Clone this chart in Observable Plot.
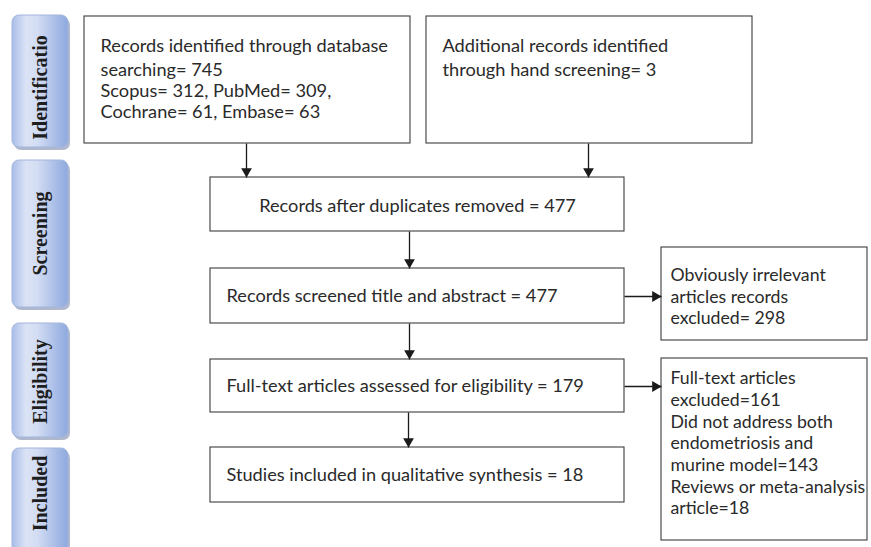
<!DOCTYPE html>
<html>
<head>
<meta charset="utf-8">
<script src="https://cdn.jsdelivr.net/npm/d3@7"></script>
<script src="https://cdn.jsdelivr.net/npm/@observablehq/plot@0.6"></script>
<style>
  html, body { margin: 0; padding: 0; background: #ffffff; overflow: hidden; }
  #chart svg { display: block; }
</style>
</head>
<body>
<div id="chart"></div>
<script>
// ---------- DATA ----------
const stages = ["Identificatio", "Screening", "Eligibility", "Included"];
const databaseTotal = 745;
const sourceNames = ["Scopus", "PubMed", "Cochrane", "Embase"];
const sourceCounts = [312, 309, 61, 63];
const handScreening = 3;
const afterDuplicates = 477;
const screenedTitleAbstract = 477;
const irrelevantExcluded = 298;
const fullTextAssessed = 179;
const fullTextExcluded = 161;
const notAddressBoth = 143;
const reviewsMeta = 18;
const includedStudies = 18;

// ---------- TEXT OF EACH BOX ----------
const boxTexts = {
  db: ["Records identified through database",
       `searching= ${databaseTotal}`,
       `${sourceNames[0]}= ${sourceCounts[0]}, ${sourceNames[1]}= ${sourceCounts[1]},`,
       `${sourceNames[2]}= ${sourceCounts[2]}, ${sourceNames[3]}= ${sourceCounts[3]}`],
  hand: ["Additional records identified", `through hand screening= ${handScreening}`],
  dup: [`Records after duplicates removed = ${afterDuplicates}`],
  screen: [`Records screened title and abstract = ${screenedTitleAbstract}`],
  irrel: ["Obviously irrelevant", "articles records", `excluded= ${irrelevantExcluded}`],
  ftEx: ["Full-text articles", `excluded=${fullTextExcluded}`, "Did not address both",
         "endometriosis and", `murine model=${notAddressBoth}`, "Reviews or meta-analysis",
         `article=${reviewsMeta}`],
  elig: [`Full-text articles assessed for eligibility = ${fullTextAssessed}`],
  incl: [`Studies included in qualitative synthesis = ${includedStudies}`]
};

// ---------- LAYOUT (diagram space = pixel space) ----------
const W = 871, H = 547;
const boxLayout = {
  db:     {x1: 84,  y1: 16,  x2: 410, y2: 143, tx: 100, ty: [46, 70, 91, 112], anchor: "start", size: 18.2},
  hand:   {x1: 426, y1: 16,  x2: 752, y2: 143, tx: 442, ty: [46, 70], anchor: "start", size: 18.2},
  dup:    {x1: 210, y1: 177, x2: 624, y2: 231, tx: 417, ty: [206], anchor: "middle", size: 18.2},
  screen: {x1: 210, y1: 268, x2: 624, y2: 323, tx: 226, ty: [296], anchor: "start", size: 18.2},
  irrel:  {x1: 661, y1: 247, x2: 867, y2: 340, tx: 670, ty: [275, 297, 318], anchor: "start", size: 17.7},
  ftEx:   {x1: 661, y1: 358, x2: 867, y2: 540, tx: 670, ty: [378, 400, 422, 443, 465, 487, 508], anchor: "start", size: 17.7},
  elig:   {x1: 210, y1: 359, x2: 624, y2: 412, tx: 226, ty: [386], anchor: "start", size: 18.2},
  incl:   {x1: 210, y1: 447, x2: 624, y2: 502, tx: 226, ty: [475], anchor: "start", size: 18.2}
};
const stageLayout = [
  {y1: 15,  y2: 147, ty: 87},
  {y1: 160, y2: 307, ty: 233},
  {y1: 323, y2: 437, ty: 381},
  {y1: 448, y2: 575, ty: 493}
];
const stageX1 = 12, stageX2 = 68, stageTX = 40;

const arrowLayout = [
  {x1: 246, y1: 143, x2: 246, y2: 177, dir: "down"},
  {x1: 588, y1: 143, x2: 588, y2: 177, dir: "down"},
  {x1: 409, y1: 231, x2: 409, y2: 268, dir: "down"},
  {x1: 409, y1: 323, x2: 409, y2: 359, dir: "down"},
  {x1: 408, y1: 412, x2: 408, y2: 447, dir: "down"},
  {x1: 624, y1: 296, x2: 661, y2: 296, dir: "right"},
  {x1: 624, y1: 386, x2: 661, y2: 386, dir: "right"}
];

// ---------- DERIVED TABLES ----------
const boxes = Object.keys(boxLayout).map(k => ({key: k, ...boxLayout[k]}));
const lines = boxes.flatMap(b => boxTexts[b.key].map((t, i) => ({text: t, x: b.tx, y: b.ty[i], anchor: b.anchor, size: b.size})));
const startLines = lines.filter(d => d.anchor === "start");
const midLines = lines.filter(d => d.anchor === "middle");
const stageRows = stages.map((s, i) => ({label: s, x1: stageX1, x2: stageX2, ...stageLayout[i], tx: stageTX}));
const headOffset = 6.2; // centroid of the triangle symbol behind the tip
const heads = arrowLayout.map(a => ({
  x: a.dir === "right" ? a.x2 - headOffset : a.x2,
  y: a.dir === "down" ? a.y2 - headOffset : a.y2,
  rotate: a.dir === "down" ? 180 : 90
}));

// gradient defs mark
const defsMark = () => {
  const defs = d3.create("svg:defs");
  const g = defs.append("linearGradient").attr("id", "stageGrad")
    .attr("x1", "0").attr("x2", "1").attr("y1", "0").attr("y2", "0");
  [[0, "#a9bde8"], [0.25, "#dbe3f5"], [0.45, "#d3ddf3"], [0.8, "#a6bbe6"], [1, "#8ea9de"]]
    .forEach(([o, c]) => g.append("stop").attr("offset", o).attr("stop-color", c));
  return defs.node();
};

const mainFont = "Lato, 'Open Sans', sans-serif";

const chart = Plot.plot({
  width: W,
  height: H,
  margin: 0,
  x: {domain: [0, W], range: [0, W], axis: null},
  y: {domain: [0, H], range: [0, H], axis: null},
  style: {background: "#ffffff", overflow: "hidden"},
  marks: [
    defsMark,
    // stage label shadows
    Plot.rect(stageRows, {x1: "x1", x2: "x2", y1: "y1", y2: "y2", dx: 2, dy: 3, rx: 7, ry: 7,
      fill: "#8e9ab8", fillOpacity: 0.7, clip: true}),
    // stage label boxes
    Plot.rect(stageRows, {x1: "x1", x2: "x2", y1: "y1", y2: "y2", rx: 7, ry: 7,
      fill: "url(#stageGrad)", stroke: "#a3b5dc", strokeWidth: 1, clip: true}),
    Plot.text(stageRows, {x: "tx", y: "ty", text: "label", rotate: -90,
      fontFamily: "'Liberation Serif', 'DejaVu Serif', serif", fontWeight: "bold", fontSize: 20,
      fill: "#1e1e1e", textAnchor: "middle", lineAnchor: "middle"}),
    // flow boxes
    Plot.rect(boxes, {x1: "x1", x2: "x2", y1: "y1", y2: "y2", fill: "#ffffff", stroke: "#3c3c3c", strokeWidth: 1.1}),
    // box texts
    Plot.text(startLines.filter(d => d.size > 18), {x: "x", y: "y", text: "text", textAnchor: "start", lineAnchor: "middle",
      fontFamily: mainFont, fontSize: 18.2, fill: "#2a2a2a"}),
    Plot.text(startLines.filter(d => d.size <= 18), {x: "x", y: "y", text: "text", textAnchor: "start", lineAnchor: "middle",
      fontFamily: mainFont, fontSize: 17.7, fill: "#2a2a2a"}),
    Plot.text(midLines, {x: "x", y: "y", text: "text", textAnchor: "middle", lineAnchor: "middle",
      fontFamily: mainFont, fontSize: 18.2, fill: "#2a2a2a"}),
    // arrows
    Plot.link(arrowLayout, {x1: "x1", y1: "y1", x2: "x2", y2: "y2", stroke: "#1a1a1a", strokeWidth: 1.3}),
    Plot.dot(heads, {x: "x", y: "y", rotate: "rotate", symbol: "triangle", r: 4, fill: "#1a1a1a", stroke: "none"})
  ]
});

document.getElementById("chart").appendChild(chart);
</script>
</body>
</html>
